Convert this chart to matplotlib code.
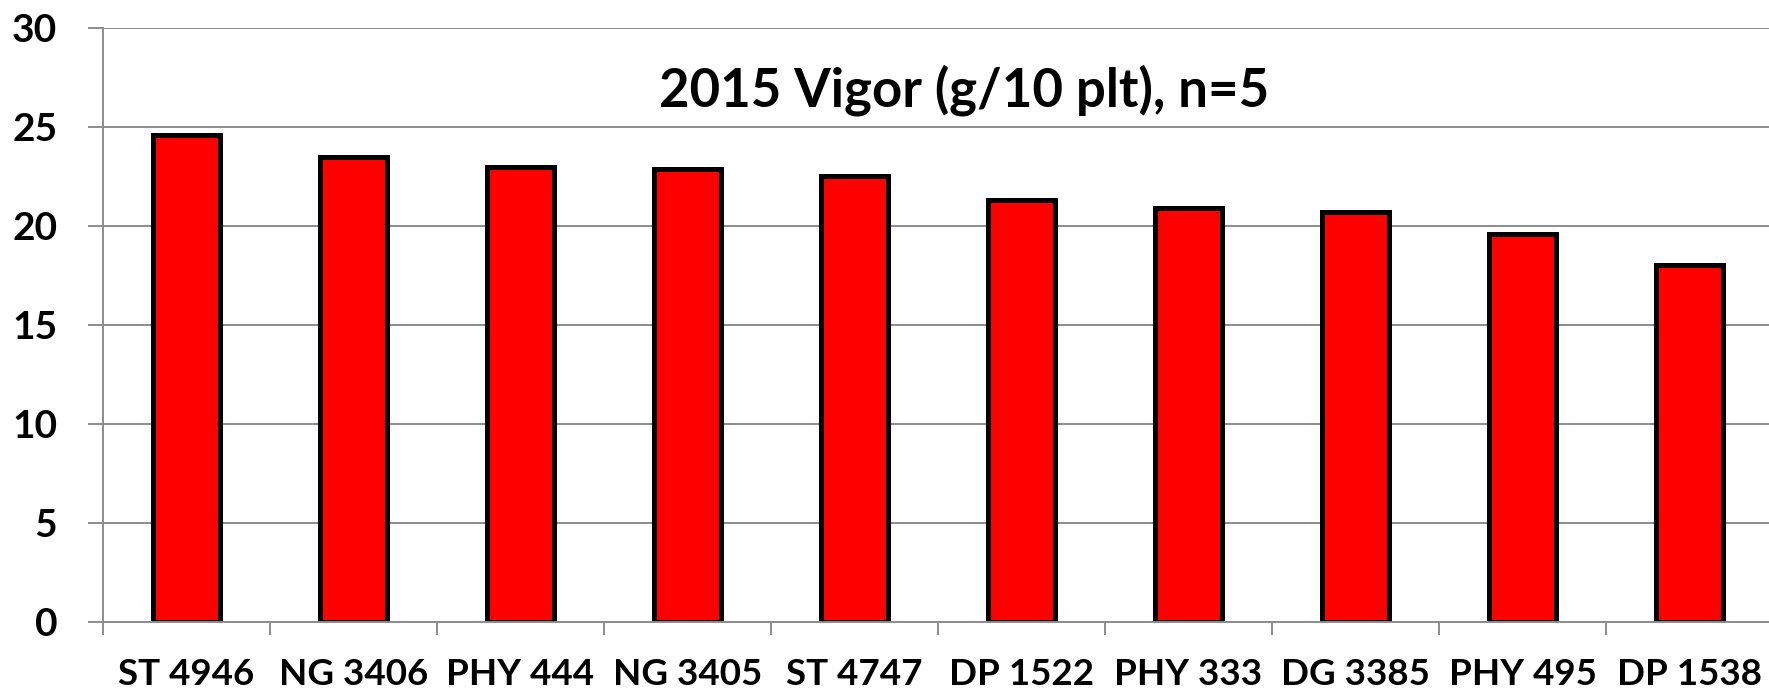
import matplotlib
matplotlib.use("Agg")
import matplotlib.pyplot as plt
import numpy as np
from matplotlib.ticker import FixedLocator

categories = ["ST 4946", "NG 3406", "PHY 444", "NG 3405", "ST 4747",
              "DP 1522", "PHY 333", "DG 3385", "PHY 495", "DP 1538"]
values = [24.6, 23.5, 23.0, 22.9, 22.5, 21.3, 20.9, 20.7, 19.6, 18.0]
yticks = [0, 5, 10, 15, 20, 25, 30]
title = "2015 Vigor (g/10 plt), n=5"

W, H = 1769, 692
fig = plt.figure(figsize=(W / 100, H / 100), dpi=100)
left, right = 103, 1773
top, bottom = 28, 621.7
ax = fig.add_axes([left / W, (H - bottom) / H, (right - left) / W, (bottom - top) / H])

x = np.arange(len(categories))
ax.bar(x, values, width=0.4, color="#FF0000", edgecolor="black", linewidth=3.6, zorder=3)

grey = "#8c8c8c"
ax.set_xlim(-0.5, len(categories) - 0.5)
ax.set_ylim(0, 30)
ax.set_yticks(yticks)
ax.set_yticklabels([str(t) for t in yticks], fontfamily="Lato", fontweight="bold", fontsize=28)
ax.yaxis.grid(True, color=grey, linewidth=1.4, zorder=0)
ax.tick_params(axis="y", direction="out", length=11, width=1.4, color=grey, pad=22)

ax.xaxis.set_major_locator(FixedLocator(np.arange(-0.5, len(categories), 1.0)))
ax.xaxis.set_minor_locator(FixedLocator(x))
ax.set_xticklabels([], minor=False)
ax.set_xticklabels(categories, minor=True, fontfamily="Lato", fontweight="bold", fontsize=26.5)
ax.tick_params(axis="x", which="major", direction="out", length=9, width=1.4, color=grey)
ax.tick_params(axis="x", which="minor", length=0, pad=26)

for s in ["top", "right"]:
    ax.spines[s].set_visible(False)
for s in ["left", "bottom"]:
    ax.spines[s].set_color(grey)
    ax.spines[s].set_linewidth(1.4)
ax.spines["bottom"].set_zorder(4)

fig.text(964 / W, 1 - 107 / H, title, ha="center", va="baseline",
         fontfamily="Lato", fontweight="bold", fontsize=38)

fig.savefig("out.png", dpi=100)
